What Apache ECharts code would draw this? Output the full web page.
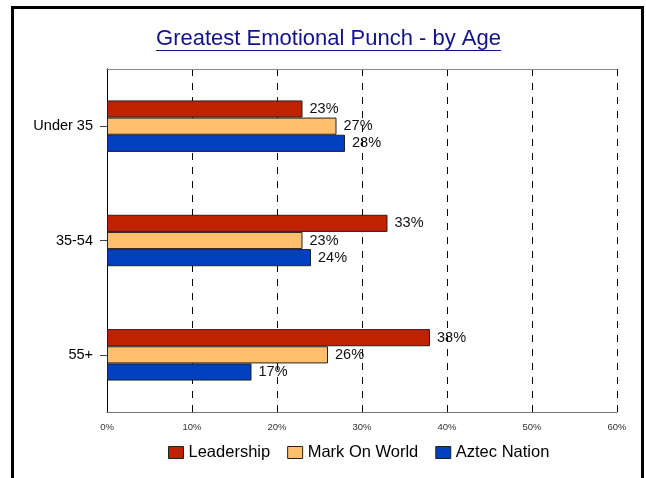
<!DOCTYPE html>
<html>
<head>
<meta charset="utf-8">
<script src="https://cdn.jsdelivr.net/npm/echarts@6/dist/echarts.min.js"></script>
<style>
  html, body { margin: 0; padding: 0; background: #fff; }
  #wrap { position: relative; width: 646px; height: 478px; overflow: hidden; }
  #chart { width: 646px; height: 478px; }
  #frame {
    position: absolute; left: 11px; top: 6px; width: 627px; height: 480px;
    border: 3px solid #000; border-bottom: none; pointer-events: none;
  }
</style>
</head>
<body>
<div id="wrap">
  <div id="chart"></div>
  <div id="frame"></div>
</div>
<script>
// Age groups and share of respondents per theme (%)
const categories = ['Under 35', '35-54', '55+'];
const leadership = [23, 33, 38];
const markOnWorld = [27, 23, 26];
const aztecNation = [28, 24, 17];
const xTicks = [0, 10, 20, 30, 40, 50, 60];

const FONT = '"Liberation Sans", Arial, sans-serif';
const titleText = 'Greatest Emotional Punch - by Age';
const titleSize = 22;

// width of the title, used to place it and its underline
const ctx = document.createElement('canvas').getContext('2d');
ctx.font = titleSize + 'px ' + FONT;
const titleW = ctx.measureText(titleText).width;
const titleCx = 328.5;
const titleX = titleCx - titleW / 2;

function barSeries(name, data, color) {
  return {
    name: name,
    type: 'bar',
    data: data,
    barGap: '0%',
    barCategoryGap: '55%',
    itemStyle: { color: color, borderColor: '#222', borderWidth: 1 },
    label: {
      show: true,
      position: 'right',
      distance: 7,
      formatter: '{c}%',
      color: '#111',
      fontSize: 14.5,
      fontFamily: FONT
    }
  };
}

const chart = echarts.init(document.getElementById('chart'), null, { renderer: 'canvas' });
chart.setOption({
  animation: false,
  backgroundColor: '#fff',
  title: {
    text: titleText,
    left: titleX,
    top: 28,
    padding: 0,
    textStyle: { color: '#12128c', fontSize: titleSize, fontWeight: 'normal', fontFamily: FONT }
  },
  graphic: [{
    type: 'line',
    shape: { x1: titleX, y1: 50.5, x2: titleX + titleW, y2: 50.5 },
    style: { stroke: '#12128c', lineWidth: 1.2 }
  }],
  legend: {
    bottom: 12,
    left: 163,
    itemWidth: 15,
    itemHeight: 12,
    itemGap: 17,
    icon: 'rect',
    textStyle: { color: '#000', fontSize: 16.5, fontFamily: FONT },
    data: ['Leadership', 'Mark On World', 'Aztec Nation'],
    itemStyle: { borderColor: '#222', borderWidth: 1 }
  },
  grid: { left: 107, right: 29, top: 69, bottom: 66, containLabel: false },
  xAxis: [{
    type: 'value',
    min: xTicks[0],
    max: xTicks[xTicks.length - 1],
    interval: 10,
    axisLine: { show: true, lineStyle: { color: '#777', width: 1 } },
    axisTick: { show: false },
    axisLabel: { formatter: '{value}%', color: '#333', fontSize: 9.5, fontFamily: FONT, margin: 10 },
    splitLine: { show: true, lineStyle: { color: '#000', type: [7, 7], width: 1 } }
  }, {
    type: 'value',
    position: 'top',
    min: xTicks[0],
    max: xTicks[xTicks.length - 1],
    interval: 10,
    axisLine: { show: true, lineStyle: { color: '#888', width: 1 } },
    axisTick: { show: false },
    axisLabel: { show: false },
    splitLine: { show: false }
  }],
  yAxis: [{
    type: 'category',
    data: categories,
    inverse: true,
    axisLine: { show: true, lineStyle: { color: '#000', width: 1 } },
    axisTick: { show: true, alignWithLabel: true, length: 7, lineStyle: { color: '#444' } },
    axisLabel: { color: '#000', fontSize: 14.5, fontFamily: FONT, margin: 14 }
  }, {
    type: 'category',
    data: categories,
    inverse: true,
    position: 'right',
    axisLine: { show: true, lineStyle: { color: '#000', width: 1 } },
    axisTick: { show: false },
    axisLabel: { show: false }
  }],
  series: [
    barSeries('Leadership', leadership, '#bf2200'),
    barSeries('Mark On World', markOnWorld, '#ffc06e'),
    barSeries('Aztec Nation', aztecNation, '#0040bf')
  ]
});
</script>
</body>
</html>
